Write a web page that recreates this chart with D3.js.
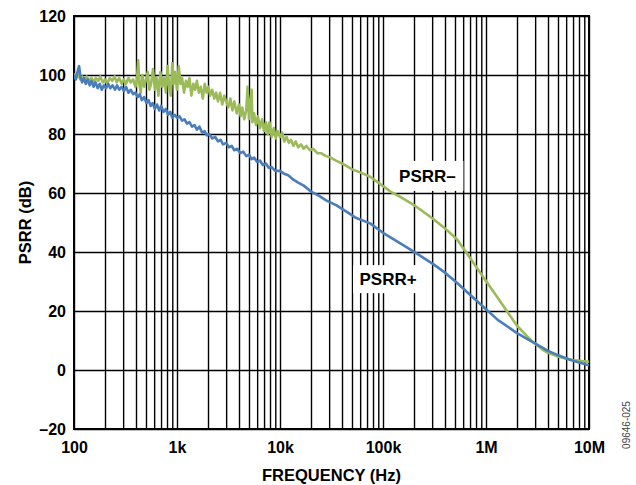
<!DOCTYPE html>
<html>
<head>
<meta charset="utf-8">
<script src="https://cdn.jsdelivr.net/npm/d3@7"></script>
<style>
  body { margin: 0; background: #fff; }
  text { font-family: "Liberation Sans", Arial, sans-serif; font-weight: bold; fill: #000; }
</style>
</head>
<body>
<div id="chart"></div>
<script>
// PSRR- (green), frequency in Hz, dB
const psrrMinus = [
  [100,100.5],[105,99],[110,100],[115,98.5],[120,99.5],[127,98],[133,99.5],[140,98],[148,99],[155,97.5],
  [163,99],[172,98],[180,99.5],[190,97.5],[200,98.5],[210,97],[222,99],[235,98],[248,99.5],[260,97.5],
  [275,99],[290,97],[305,98.5],[320,97],[338,99],[355,97.5],[375,98.5],[395,96],[410,99],[420,105],
  [430,97],[445,94],[460,100],[480,96],[500,98.5],[520,101],[540,95],[560,97],[585,102],[610,95],
  [635,99],[660,93],[690,101],[720,96],[750,99],[780,94],[810,103],[840,96],[870,93],[900,104],
  [930,97],[960,101],[1000,95],[1040,103],[1080,97],[1120,99],[1170,94],[1220,98],[1270,96],[1320,99],
  [1380,93],[1440,97],[1500,95],[1560,98],[1630,94],[1700,96],[1780,92],[1860,97],[1940,94],[2020,96],
  [2100,93],[2200,95],[2300,92],[2400,94],[2500,91],[2620,94],[2750,90],[2880,93],[3000,91],[3150,89],
  [3300,92],[3450,88],[3600,91],[3800,87],[4000,90],[4150,86],[4300,89],[4500,85],[4700,88],[4850,96],
  [5000,85],[5300,95],[5400,84],[5600,87],[5850,83],[6100,86],[6400,82],[6700,85],[7000,81],[7300,84],
  [7600,80],[7900,84],[8300,79],[8700,82],[9100,78.5],[9500,81],[10000,79],[10500,80.5],[11000,77.5],
  [11600,79],[12200,77],[12800,78],[13500,76],[14200,77.5],[15000,75.5],[16000,76.5],[17000,75],
  [18000,76],[19500,74.5],[21000,75],[23000,73.5],[25000,73.5],[28000,72.5],[31000,72],[35000,71],
  [40000,70],[45000,69],[50000,68],[60000,67],[75000,65.5],[90000,63.5],[118000,60.5],[150000,58.5],
  [206000,55.6],[310000,51.1],[400000,48],[522000,44.3],[700000,38],[1000000,30.2],[1300000,24.5],
  [1590000,20],[2000000,15],[2500000,11.5],[2900000,9.3],[3500000,7],[4000000,5.8],[4860000,4.7],
  [6000000,3.8],[7000000,3.4],[8500000,3.0],[10000000,2.8]
];

// PSRR+ (blue)
const psrrPlus = [
  [100,100],[104,98.5],[108,101],[112,103],[116,99],[120,97.5],[125,99],[130,97],[136,98.5],[142,96.5],
  [148,98],[155,96],[162,97.5],[170,95.5],[178,97],[186,95],[195,96.5],[205,95.5],[215,97],[225,95.5],
  [237,96.5],[250,95],[262,96.5],[275,95],[290,96],[305,94.5],[320,96],[338,94],[355,95],[375,93.5],
  [395,94],[415,92.5],[435,93.5],[455,91.5],[480,92.5],[505,90.5],[530,91.5],[555,89.5],[580,90.5],
  [610,88.5],[640,90],[670,88],[700,89.5],[740,87.5],[780,88.5],[820,86.5],[860,87.5],[900,85.5],
  [950,86.5],[1000,85.5],[1060,86],[1120,84.5],[1180,85],[1250,83.5],[1320,84],[1400,82.5],[1480,83],
  [1560,81.5],[1650,82.5],[1750,80.5],[1850,81],[1950,79.5],[2050,80],[2200,78.5],[2350,79],[2500,77.5],
  [2650,78],[2800,76.5],[3000,77],[3200,75.5],[3400,76],[3600,74.5],[3850,75],[4100,73.5],[4400,74],
  [4700,72.5],[5000,73],[5300,71.5],[5600,72],[6000,70.5],[6400,71],[6800,69.5],[7300,70],[7800,68.5],
  [8300,68.8],[9000,67.5],[10000,67.5],[11000,66.5],[12000,66],[13500,64.5],[15000,63.5],[17000,62.5],
  [20000,60.5],[24000,59],[28000,57.5],[35000,55.9],[45000,53.5],[55000,51.5],[75000,49.7],[100000,46.5],
  [146000,43],[206000,39.8],[310000,35.8],[400000,33],[522000,29.6],[700000,25.5],[1000000,20.6],
  [1300000,17],[1590000,14.9],[2000000,12.5],[2900000,9.3],[4000000,6.5],[4860000,5.2],[6000000,4],
  [7000000,3.1],[8500000,2.3],[10000000,1.6]
];

const xDecades = [100, 1e3, 1e4, 1e5, 1e6, 1e7];
const xTickLabels = ["100", "1k", "10k", "100k", "1M", "10M"];
const yTicks = [-20, 0, 20, 40, 60, 80, 100, 120];
const yTickLabels = ["\u201320", "0", "20", "40", "60", "80", "100", "120"];

const margin = {top: 16, right: 47, bottom: 56, left: 74};
const width = 636 - margin.left - margin.right;
const height = 485 - margin.top - margin.bottom;

const svg = d3.select("#chart").append("svg")
    .attr("width", 636)
    .attr("height", 485);

const g = svg.append("g")
    .attr("transform", "translate(" + margin.left + "," + margin.top + ")");

const x = d3.scaleLog().domain([100, 1e7]).range([0, width]);
const y = d3.scaleLinear().domain([-20, 120]).range([height, 0]);

// minor frequency grid: 2..9 in each decade
let minorTicks = [];
xDecades.slice(0, -1).forEach(d => {
    for (let k = 2; k <= 9; k++) minorTicks.push(d * k);
});

// vertical grid
g.append("g")
    .attr("class", "xgrid")
    .attr("transform", "translate(0," + height + ")")
    .call(d3.axisBottom(x).tickValues(xDecades.concat(minorTicks)).tickSize(-height).tickFormat(""))
    .call(a => a.select(".domain").remove())
    .selectAll("line").attr("stroke", "#000").attr("stroke-width", 1.4);

// horizontal grid
g.append("g")
    .attr("class", "ygrid")
    .call(d3.axisLeft(y).tickValues(yTicks).tickSize(-width).tickFormat(""))
    .call(a => a.select(".domain").remove())
    .selectAll("line").attr("stroke", "#000").attr("stroke-width", 1.4);

// tick labels
g.append("g")
    .attr("transform", "translate(0," + height + ")")
    .call(d3.axisBottom(x).tickValues(xDecades).tickSize(0).tickPadding(13)
        .tickFormat((d, i) => xTickLabels[i]))
    .call(a => a.select(".domain").remove())
    .selectAll("text").style("font-size", "16px").style("font-family", null);

g.append("g")
    .call(d3.axisLeft(y).tickValues(yTicks).tickSize(0).tickPadding(8)
        .tickFormat((d, i) => yTickLabels[i]))
    .call(a => a.select(".domain").remove())
    .selectAll("text").style("font-size", "16px").style("font-family", null);

// plot border
g.append("rect")
    .attr("width", width).attr("height", height)
    .attr("fill", "none").attr("stroke", "#000").attr("stroke-width", 2);

// series labels with white boxes
function seriesLabel(f, db, txt, bw, bh) {
    g.append("rect")
        .attr("x", x(f) - bw / 2).attr("y", y(db) - bh / 2)
        .attr("width", bw).attr("height", bh).attr("fill", "#fff");
    g.append("text")
        .attr("x", x(f)).attr("y", y(db)).attr("dy", "0.36em")
        .attr("text-anchor", "middle").style("font-size", "17px").text(txt);
}
seriesLabel(270000, 65.8, "PSRR\u2013", 72, 30);
seriesLabel(112000, 30.8, "PSRR+", 70, 28);

g.append("clipPath").attr("id", "clip")
    .append("rect").attr("width", width).attr("height", height);

const line = d3.line()
    .x(d => x(d[0]))
    .y(d => y(d[1]));

g.append("path")
    .datum(psrrMinus)
    .attr("clip-path", "url(#clip)")
    .attr("fill", "none")
    .attr("stroke", "#9bbb59")
    .attr("stroke-width", 2.6)
    .attr("stroke-linejoin", "round")
    .attr("d", line);

g.append("path")
    .datum(psrrPlus)
    .attr("clip-path", "url(#clip)")
    .attr("fill", "none")
    .attr("stroke", "#4a7ebb")
    .attr("stroke-width", 2.6)
    .attr("stroke-linejoin", "round")
    .attr("d", line);

// axis titles
svg.append("text")
    .attr("x", margin.left + width / 2).attr("y", 481)
    .attr("text-anchor", "middle").style("font-size", "16.5px")
    .text("FREQUENCY (Hz)");

svg.append("text")
    .attr("transform", "translate(31," + (margin.top + height / 2) + ") rotate(-90)")
    .attr("text-anchor", "middle").style("font-size", "16.5px")
    .text("PSRR (dB)");

svg.append("text")
    .attr("transform", "translate(630,425) rotate(-90)")
    .attr("text-anchor", "middle")
    .style("font-size", "10px").style("font-weight", "normal").style("fill", "#444")
    .text("09646-025");
</script>
</body>
</html>
